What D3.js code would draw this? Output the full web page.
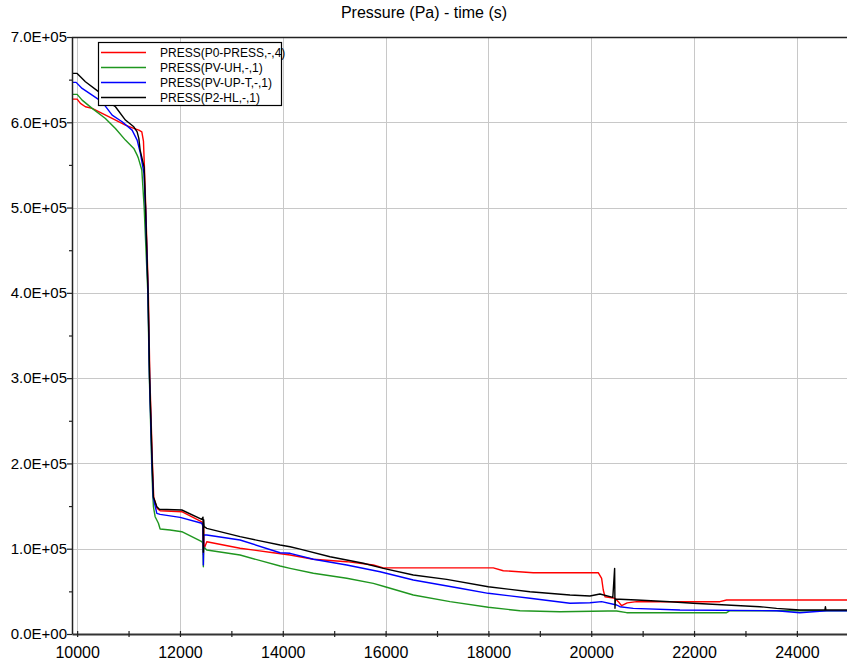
<!DOCTYPE html>
<html>
<head>
<meta charset="utf-8">
<script src="https://cdn.jsdelivr.net/npm/d3@7"></script>
<style>
html,body{margin:0;padding:0;background:#fff;}
svg{display:block;font-family:Arial,"Liberation Sans",sans-serif;}
</style>
</head>
<body>
<svg id="chart" width="847" height="670"></svg>
<script>
const chartTitle = "Pressure (Pa) - time (s)";
const seriesNames = ["PRESS(P0-PRESS,-,4)", "PRESS(PV-UH,-,1)", "PRESS(PV-UP-T,-,1)", "PRESS(P2-HL,-,1)"];
const seriesColors = ["#ff0000", "#1f961f", "#0000ff", "#000000"];
const xTicks = [10000, 12000, 14000, 16000, 18000, 20000, 22000, 24000];
const yTicks = [0, 1e5, 2e5, 3e5, 4e5, 5e5, 6e5, 7e5];

// P0-PRESS (red)
const redData = [
 [9903,627200],[10000,627200],[10064,622100],[10161,618200],[10292,616300],[10486,610400],
 [10681,604500],[10939,596700],[11102,592800],[11200,590800],[11258,588800],[11290,578000],
 [11310,545000],[11335,500000],[11385,400000],[11415,300000],[11465,200000],[11490,160000],
 [11550,148000],[11581,146000],[11614,144500],[12036,143400],[12425,131600],[12445,128000],
 [12455,93000],[12462,125000],[12470,100000],[12522,108200],[13169,100500],[13817,95300],
 [14142,92600],[14595,87600],[15244,84800],[15761,80900],[15956,77500],[16100,77500],
 [18095,77500],[18289,74200],[18872,71900],[20136,71900],[20202,65300],[20234,51600],
 [20267,43700],[20461,41900],[20527,37900],[20591,33200],[20700,36500],[20883,37900],
 [22503,37900],[22633,39900],[24975,39900]
];
// PV-UH (green)
const greenData = [
 [9903,632700],[10000,632700],[10097,626000],[10292,616300],[10550,604500],[10745,592800],
 [10939,579100],[11102,569400],[11167,561500],[11192,557700],[11258,544000],[11303,501000],
 [11375,400000],[11405,300000],[11450,200000],[11470,165000],[11484,149200],[11517,137500],
 [11581,129800],[11614,123100],[11808,121900],[12036,119900],[12425,108200],[12448,106000],
 [12455,78900],[12462,102000],[12522,98500],[13169,92600],[13947,79700],[14142,77000],
 [14595,71200],[15244,65300],[15761,59400],[15989,55400],[16539,45700],[17253,37900],
 [17997,31300],[18614,27300],[19392,26100],[20325,27000],[20494,27000],[20689,25000],
 [22633,25000],[22697,27300],[24975,27300]
];
// PV-UP-T (blue)
const blueData = [
 [9903,646800],[9981,646800],[10097,639700],[10292,631900],[10486,624000],[10681,608400],
 [10875,600600],[11069,590800],[11167,579100],[11231,563500],[11300,540000],[11330,500000],
 [11378,400000],[11408,300000],[11455,200000],[11480,160000],[11550,141500],[11614,140300],
 [12003,136800],[12425,129800],[12448,126000],[12455,81000],[12462,116000],[12522,116100],
 [13169,110200],[13947,95300],[14142,94600],[14595,87600],[15244,80900],[15892,73000],
 [16539,63300],[17447,53600],[17997,47700],[18808,41900],[19586,36000],[19975,36700],
 [20202,37900],[20494,34000],[20558,32000],[20817,30100],[21725,28100],[23605,27300],
 [24058,25000],[24577,27300],[24975,27300]
];
// P2-HL (black)
const blackData = [
 [9903,657300],[10000,657300],[10064,653300],[10161,647500],[10422,635700],[10550,626000],
 [10745,618200],[10939,602600],[11102,594700],[11167,588800],[11200,581100],[11225,567400],
 [11303,547500],[11330,500600],[11380,399800],[11410,300100],[11460,200500],[11484,160600],
 [11550,149200],[11600,146200],[12036,145400],[12425,134500],[12448,137000],[12455,96000],
 [12462,134000],[12470,126000],[12522,123900],[13169,114100],[13947,104300],[14142,102300],
 [14336,99500],[14919,90600],[15567,82900],[15956,77000],[16539,69200],[17189,64100],
 [17997,55400],[18808,49600],[19586,45700],[19975,44500],[20169,46900],[20420,43000],
 [20455,77000],[20462,30100],[20470,41000],[20558,40700],[20883,39900],[21531,37900],
 [21984,36000],[22633,34000],[23280,32000],[23605,30100],[24058,28100],[24545,28100],
 [24555,32000],[24565,28100],[24975,28100]
];
const allSeries = [redData, greenData, blueData, blackData];

const svg = d3.select("#chart");
const W = 847, H = 670;
const m = {left: 72, right: 0, top: 37, bottom: 36};

const x = d3.scaleLinear().domain([9900, 24975]).range([m.left, W - m.right]);
const y = d3.scaleLinear().domain([0, 7e5]).range([H - m.bottom, m.top]);

// grid
const grid = svg.append("g").attr("stroke", "#c8c8c8").attr("stroke-width", 1);
grid.selectAll("line.v").data(xTicks).join("line")
  .attr("x1", d => Math.round(x(d)) + 0.5).attr("x2", d => Math.round(x(d)) + 0.5)
  .attr("y1", y(7e5)).attr("y2", y(0));
grid.selectAll("line.h").data(yTicks.slice(1, -1)).join("line")
  .attr("y1", d => Math.round(y(d)) + 0.5).attr("y2", d => Math.round(y(d)) + 0.5)
  .attr("x1", m.left).attr("x2", W);

// clip
svg.append("clipPath").attr("id", "clip").append("rect")
  .attr("x", m.left).attr("y", m.top).attr("width", W - m.left).attr("height", H - m.bottom - m.top);

const line = d3.line().x(d => x(d[0])).y(d => y(d[1]));
svg.append("g").attr("clip-path", "url(#clip)")
  .selectAll("path").data(allSeries).join("path")
  .attr("d", line).attr("fill", "none")
  .attr("stroke", (d, i) => seriesColors[i]).attr("stroke-width", 1.4)
  .attr("stroke-linejoin", "round");

// axes
const xAxis = d3.axisBottom(x).tickValues(d3.range(10000, 25000, 1000))
  .tickFormat(d => xTicks.includes(d) ? d : "").tickSizeInner(0).tickSizeOuter(0);
const gx = svg.append("g").attr("transform", `translate(0,${y(0)})`).call(xAxis);
gx.select(".domain").attr("stroke", "#333").attr("stroke-width", 2);
gx.selectAll(".tick line").attr("y1", -3).attr("y2", 3).attr("stroke", "#222").attr("stroke-width", 1.2);
gx.selectAll(".tick text").attr("y", 13).attr("dy", "0.71em").attr("font-size", 16).attr("fill", "#000");

const yAxis = d3.axisLeft(y).tickValues(d3.range(0, 7e5 + 1, 5e4))
  .tickFormat(d => yTicks.includes(d) ? (d / 1e5).toFixed(1) + (d === 0 ? "E+00" : "E+05") : "")
  .tickSizeOuter(0);
const gy = svg.append("g").attr("transform", `translate(${m.left},0)`).call(yAxis);
gy.select(".domain").attr("stroke", "#222").attr("stroke-width", 1.5);
gy.selectAll(".tick line").attr("x2", d => yTicks.includes(d) ? -5 : -3).attr("stroke", "#222").attr("stroke-width", 1.2);
gy.selectAll(".tick text").attr("x", -5).attr("font-size", 15).attr("fill", "#000");

// top border
svg.append("line").attr("x1", m.left).attr("x2", W).attr("y1", m.top + 0.5).attr("y2", m.top + 0.5)
  .attr("stroke", "#222").attr("stroke-width", 1.5);

// title
svg.append("text").attr("x", 424).attr("y", 18).attr("text-anchor", "middle")
  .attr("font-size", 16).text(chartTitle);

// legend
const lg = svg.append("g");
lg.append("rect").attr("x", 98.5).attr("y", 42.5).attr("width", 183).attr("height", 63)
  .attr("fill", "#fff").attr("stroke", "#000").attr("stroke-width", 1.2);
seriesNames.forEach((n, i) => {
  const yy = 52.5 + i * 15;
  lg.append("line").attr("x1", 101).attr("x2", 146).attr("y1", yy).attr("y2", yy)
    .attr("stroke", seriesColors[i]).attr("stroke-width", 1.4);
  lg.append("text").attr("x", 160).attr("y", yy + 4.5).attr("font-size", 12).text(n);
});
</script>
</body>
</html>
